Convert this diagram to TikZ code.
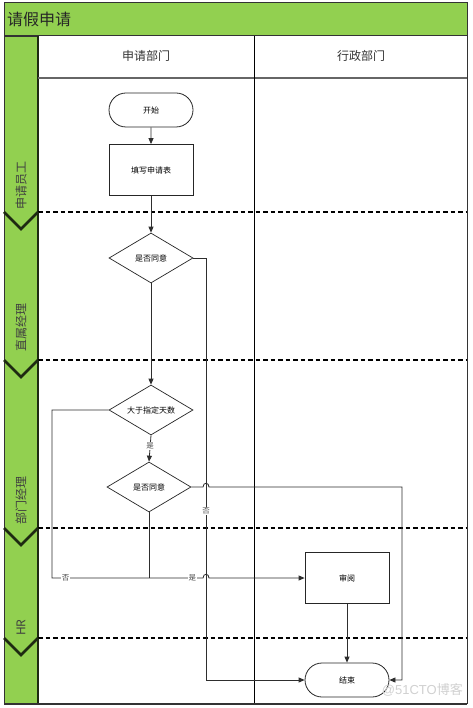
\documentclass[tikz,border=0pt]{standalone}
\usepackage{fontspec}
\newfontfamily\cjk{Noto Sans CJK SC}
\usetikzlibrary{arrows.meta,shapes.geometric,shapes.misc}
\definecolor{lanegreen}{HTML}{92D050}
\definecolor{darkedge}{HTML}{1E2A12}
\tikzset{
  every node/.style={font=\cjk},
  proc/.style={draw=black!85, line width=0.8pt, minimum width=84pt, minimum height=51pt, inner sep=0pt, font=\cjk\fontsize{8}{9}\selectfont},
  term/.style={draw=black!85, line width=0.8pt, rounded rectangle, minimum width=84pt, minimum height=34pt, inner sep=0pt, font=\cjk\fontsize{8}{9}\selectfont},
  decision/.style={draw=black!85, line width=0.7pt, diamond, aspect=2, minimum width=84pt, minimum height=50pt, inner sep=0pt, font=\cjk\fontsize{8}{9}\selectfont},
  conn/.style={draw=black!82, line width=0.8pt},
  arr/.style={conn, -{Triangle[length=6pt,width=5pt]}},
  lbl/.style={fill=white, inner sep=0.5pt, font=\cjk\fontsize{7.5}{8}\selectfont, text=black!70},
  lanedash/.style={draw=black, line width=2.2pt, dash pattern=on 4.5pt off 3pt},
  chevron/.style={draw=darkedge, line width=2.6pt},
  lanelabel/.style={rotate=90, anchor=west, inner sep=0pt, font=\cjk\fontsize{12}{13}\selectfont, text=black!75},
  header/.style={font=\cjk\fontsize{12}{13}\selectfont, text=black!80}
}
\begin{document}
\begin{tikzpicture}[x=1pt,y=-1pt]
\useasboundingbox (0,0) rectangle (472,708);
\fill[white] (0,0) rectangle (472,708);
% title bar
\filldraw[fill=lanegreen, draw=black!80, line width=1pt] (4,3) rectangle (467,36);
\node[anchor=west, font=\cjk\fontsize{16}{17}\selectfont, text=black!85, inner sep=0pt] (title) at (7,19) {请假申请};
% left green column
\filldraw[fill=lanegreen, draw=black!80, line width=0.8pt] (4,36) rectangle (38,704);
\draw[darkedge, line width=2pt] (38,36) -- (38,704);
% header row and frame
\draw[black!80, line width=0.8pt] (467,36) -- (467,704);
\draw[black!60, line width=1.6pt] (38,78) -- (467,78);
\draw[black, line width=0.9pt] (254,36) -- (254,704);
\draw[black!80, line width=1.6pt] (4,704) -- (467,704);
\node[header] (h1) at (146,56) {申请部门};
\node[header] (h2) at (361,56) {行政部门};
% lane separators
\foreach \yy in {212,360,528,638}{
  \draw[lanedash] (38,\yy) -- (467,\yy);
  \draw[chevron] (4,\yy) -- (21,\yy+17) -- (38,\yy);
}
\node[lanelabel] (l1) at (21,210) {申请员工};
\node[lanelabel] (l2) at (21,352) {直属经理};
\node[lanelabel] (l3) at (21,525) {部门经理};
\node[lanelabel] (l4) at (21,636) {HR};
% nodes
\node[term] (start) at (151,110) {开始};
\node[proc] (fill) at (151,170) {填写申请表};
\node[decision] (d1) at (151,258) {是否同意};
\node[decision] (d2) at (151,410) {大于指定天数};
\node[decision] (d3) at (149,487) {是否同意};
\node[proc] (review) at (347,578) {审阅};
\node[term] (end) at (347,680) {结束};
% connectors
\draw[arr] (start) -- (fill);
\draw[arr] (fill) -- (d1);
\draw[arr] (d1) -- (d2);
\draw[arr] (d2.south) -- node[lbl, pos=0.4] {是} (d3.north);
\draw[arr] (d1.east) -- (206,258) -- node[lbl, pos=0.60] {否} (206,680) -- (end.west);
\draw[arr] (d2.west) -- (52,410) -- (52,578) -- node[lbl, pos=0.09] {否} node[lbl, pos=0.93] {是} (203,578)
  .. controls (203,573) and (209,573) .. (209,578) -- (review.west);
\draw[conn] (d3.south) -- (149,578);
\draw[arr] (d3.east) -- (203,487) .. controls (203,482) and (209,482) .. (209,487) -- (402,487) -- (402,680) -- (end.east);
\draw[arr] (review) -- (end);
% watermark
\node[font=\fontspec{Liberation Sans}\fontsize{13}{14}\selectfont, text=black!18, anchor=east, inner sep=0pt] (wm) at (463,690) {@51CTO\cjk 博客};
\end{tikzpicture}
\end{document}
